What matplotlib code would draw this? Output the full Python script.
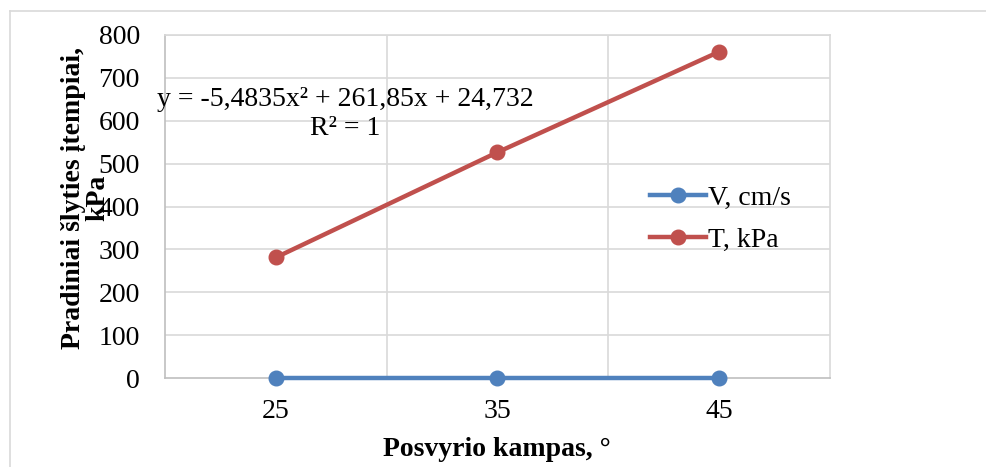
import matplotlib
matplotlib.use("Agg")
import matplotlib.pyplot as plt
from matplotlib.lines import Line2D

# Data
angles = ["25", "35", "45"]
velocity = [0.5, 0.5, 0.5]          # V, cm/s
stress = [281.1, 526.5, 760.9]      # T, kPa
y_ticks = [0, 100, 200, 300, 400, 500, 600, 700, 800]

BLUE = "#4F81BD"
RED = "#C0504D"
GRID = "#D9D9D9"
FS = 20

plt.rcParams["font.family"] = ["Liberation Serif", "DejaVu Serif"]

W, H = 986, 467
fig = plt.figure(figsize=(W / 100, H / 100), dpi=100)

# light frame around the chart area
fig.add_artist(Line2D([10 / W, 1.0], [1 - 11 / H, 1 - 11 / H], color="#D9D9D9", lw=1.2))
fig.add_artist(Line2D([10 / W, 10 / W], [0.0, 1 - 11 / H], color="#D9D9D9", lw=1.2))

ax = fig.add_axes([165 / W, 1 - 378 / H, (830 - 165) / W, (378 - 35) / H])

x = list(range(len(angles)))
ax.plot(x, velocity, color=BLUE, lw=3.2, marker="o", ms=10.5, label="V, cm/s", zorder=3, clip_on=False)
ax.plot(x, stress, color=RED, lw=3.2, marker="o", ms=10.5, label="T, kPa", zorder=3, clip_on=False)

ax.set_xlim(-0.5, len(angles) - 0.5)
ax.set_ylim(0, 800)
ax.set_yticks(y_ticks)
ax.set_xticks(x)
ax.set_xticklabels(angles)

# gridlines at category boundaries and value ticks
for b in [0.5, 1.5]:
    ax.axvline(b, color=GRID, lw=1.2, zorder=0)
for v in y_ticks[1:]:
    ax.axhline(v, color=GRID, lw=1.2, zorder=0)

for side in ["top", "right"]:
    ax.spines[side].set_color(GRID)
    ax.spines[side].set_linewidth(1.2)
for side in ["left", "bottom"]:
    ax.spines[side].set_color("#BFBFBF")
    ax.spines[side].set_linewidth(1.2)

ax.tick_params(axis="both", length=0, labelsize=FS, colors="black")
ax.tick_params(axis="y", pad=18)
ax.tick_params(axis="x", pad=15)

fig.text(497 / W, 1 - 450 / H, "Posvyrio kampas, °", ha="center", va="center",
         fontsize=FS, fontweight="bold")

fig.text(86 / W, 1 - 198 / H, "Pradiniai šlyties įtempiai,\nkPa", rotation=90,
         ha="center", va="center", fontsize=FS, fontweight="bold", linespacing=0.95)

# trendline equation
fig.text(345 / W, 1 - 114 / H, "y = -5,4835x² + 261,85x + 24,732\nR² = 1",
         ha="center", va="center", fontsize=FS, linespacing=1.2)

leg = ax.legend(loc="upper left", bbox_to_anchor=(650 / W, 1 - 185 / H),
                bbox_transform=fig.transFigure, frameon=False, fontsize=FS,
                handlelength=2.0, handletextpad=0.1, labelspacing=0.6,
                borderpad=0, borderaxespad=0)

fig.savefig("out.png", dpi=100)
